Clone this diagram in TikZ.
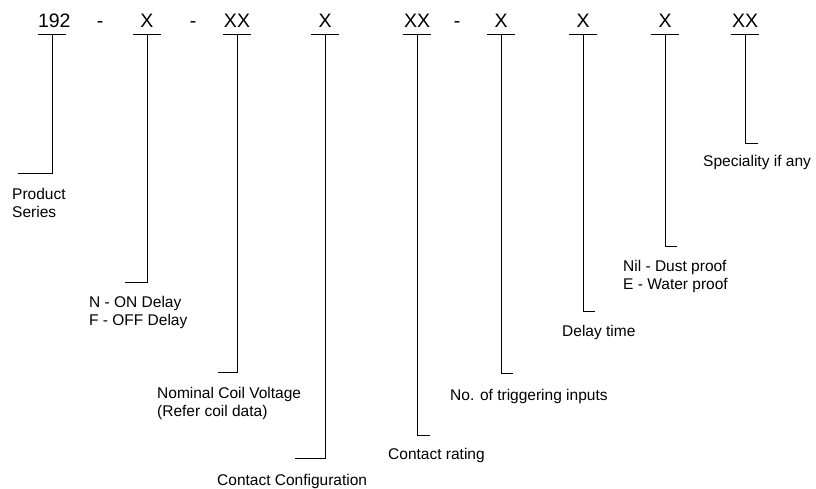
\documentclass[tikz,border=0pt]{standalone}
\usepackage{fontspec}
\setmainfont{Liberation Sans}
\usepackage{tikz}
\usetikzlibrary{positioning}

\tikzset{
	code/.style={font=\fontsize{19.5}{19.5}\selectfont, anchor=base, inner sep=0pt, text width=28pt, align=center, text depth=7pt},
	sep/.style={font=\fontsize{19.5}{19.5}\selectfont, anchor=base, inner sep=0pt},
	lbl/.style={font=\fontsize{15.5}{18}\selectfont, anchor=base west, inner sep=0pt, align=left},
	lead/.style={line width=0.9pt}
}

\begin{document}
\begin{tikzpicture}[x=1pt,y=-1pt]
\useasboundingbox (0,0) rectangle (816,488);
	% code digits
	\node[code] (series) at (52,27) {192};
	\node[sep] (d1) at (100,27) {-};
	\node[code] (delay) at (147,27) {X};
	\node[sep] (d2) at (193,27) {-};
	\node[code] (coil) at (237,27) {XX};
	\node[code] (config) at (325,27) {X};
	\node[code] (rating) at (417,27) {XX};
	\node[sep] (d3) at (457,27) {-};
	\node[code] (trig) at (501,27) {X};
	\node[code] (time) at (583,27) {X};
	\node[code] (proof) at (665,27) {X};
	\node[code] (spec) at (745,27) {XX};

	% descriptions (two-line ones sit on their last line)
	\node[lbl] (lseries) at (12,217) {Product\\Series};
	\node[lbl] (ldelay) at (89,325) {N - ON Delay\\F - OFF Delay};
	\node[lbl] (lcoil) at (157,416) {Nominal Coil Voltage\\(Refer coil data)};
	\node[lbl] (lconfig) at (217,485) {Contact Configuration};
	\node[lbl] (lrating) at (388,459) {Contact rating};
	\node[lbl] (ltrig) at (450,400) {No. of triggering inputs};
	\node[lbl] (ltime) at (562,336) {Delay time};
	\node[lbl] (lproof) at (623,289) {Nil - Dust proof\\E - Water proof};
	\node[lbl] (lspec) at (703,166) {Speciality if any};

	% line ends
	\coordinate (eseries) at (18,173);
	\coordinate (edelay) at (125,282);
	\coordinate (ecoil) at (218,372);
	\coordinate (econfig) at (295,458);
	\coordinate (erating) at (430,435);
	\coordinate (etrig) at (513,373);
	\coordinate (etime) at (595,311);
	\coordinate (eproof) at (677,246);
	\coordinate (espec) at (758,143);

	% underlines
	\draw[lead] (series.south west) -- (series.south east);
	\draw[lead] (delay.south west) -- (delay.south east);
	\draw[lead] (coil.south west) -- (coil.south east);
	\draw[lead] (config.south west) -- (config.south east);
	\draw[lead] (rating.south west) -- (rating.south east);
	\draw[lead] (trig.south west) -- (trig.south east);
	\draw[lead] (time.south west) -- (time.south east);
	\draw[lead] (proof.south west) -- (proof.south east);
	\draw[lead] (spec.south west) -- (spec.south east);

	% leaders
	\draw[lead] (series.south) |- (eseries);
	\draw[lead] (delay.south) |- (edelay);
	\draw[lead] (coil.south) |- (ecoil);
	\draw[lead] (config.south) |- (econfig);
	\draw[lead] (rating.south) |- (erating);
	\draw[lead] (trig.south) |- (etrig);
	\draw[lead] (time.south) |- (etime);
	\draw[lead] (proof.south) |- (eproof);
	\draw[lead] (spec.south) |- (espec);
\end{tikzpicture}
\end{document}
